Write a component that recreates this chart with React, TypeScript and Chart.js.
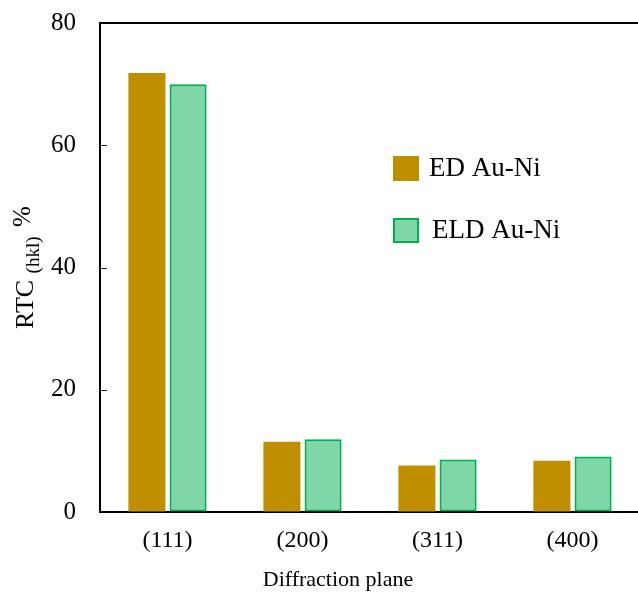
import { useEffect, useRef } from "react";
import { Chart, registerables } from "chart.js";

Chart.register(...registerables);

const categories = ["(111)", "(200)", "(311)", "(400)"];
const edValues = [71.8, 11.5, 7.6, 8.4];
const eldValues = [70.0, 11.9, 8.6, 9.1];
const seriesNames = ["ED Au-Ni", "ELD Au-Ni"];
const yMin = 0;
const yMax = 80;
const yStep = 20;
const xTitle = "Diffraction plane";
const yTitleMain = "RTC";
const yTitleSub = "(hkl)";
const yTitleUnit = "%";

const SERIF = '"Liberation Serif", "Times New Roman", serif';
const ED_COLOR = "#BF8F00";
const ELD_FILL = "rgba(0,176,80,0.5)";
const ELD_BORDER = "#00B050";

const decorPlugin = {
  id: "decor",
  afterDraw(chart: any) {
    const ctx = chart.ctx;
    const area = chart.chartArea;
    const yScale = chart.scales.y;
    ctx.save();
    // top border
    ctx.strokeStyle = "#000";
    ctx.lineWidth = 2;
    ctx.beginPath();
    ctx.moveTo(area.left - 1, area.top);
    ctx.lineTo(area.right + 2, area.top);
    ctx.stroke();
    // inward ticks
    ctx.lineWidth = 1;
    ctx.strokeStyle = "#222";
    for (let v = yMin + yStep; v < yMax; v += yStep) {
      const y = Math.round(yScale.getPixelForValue(v)) + 0.5;
      ctx.beginPath();
      ctx.moveTo(area.left, y);
      ctx.lineTo(area.left + 7, y);
      ctx.stroke();
    }
    // y title
    ctx.fillStyle = "#000";
    ctx.textBaseline = "alphabetic";
    ctx.textAlign = "left";
    const mainFont = `26px ${SERIF}`;
    const subFont = `19px ${SERIF}`;
    const unitFont = `25px ${SERIF}`;
    ctx.font = mainFont;
    const wMain = ctx.measureText(yTitleMain + " ").width;
    ctx.font = subFont;
    const wSub = ctx.measureText(yTitleSub + "  ").width;
    ctx.font = unitFont;
    const wUnit = ctx.measureText(yTitleUnit).width;
    const total = wMain + wSub + wUnit;
    const cy = (area.top + area.bottom) / 2;
    ctx.translate(33, cy);
    ctx.rotate(-Math.PI / 2);
    let x = -total / 2;
    ctx.font = mainFont;
    ctx.fillText(yTitleMain, x, 0);
    x += wMain;
    ctx.font = subFont;
    ctx.fillText(yTitleSub, x, 6);
    x += wSub;
    ctx.font = unitFont;
    ctx.fillText(yTitleUnit, x, -3);
    ctx.setTransform(1, 0, 0, 1, 0, 0);
    // x title
    ctx.font = `22px ${SERIF}`;
    ctx.textAlign = "center";
    ctx.textBaseline = "middle";
    ctx.fillText(xTitle, 338, 580);
    // legend
    const lx = area.left + 293;
    const rows = [
      { y: area.top + 133, fill: ED_COLOR, stroke: null as any, tx: lx + 36 },
      { y: area.top + 195, fill: ELD_FILL, stroke: ELD_BORDER, tx: lx + 39 },
    ];
    ctx.font = `27px ${SERIF}`;
    ctx.textAlign = "left";
    ctx.textBaseline = "middle";
    rows.forEach((r, i) => {
      ctx.fillStyle = "#fff";
      ctx.fillRect(lx, r.y, 26, 25);
      ctx.fillStyle = r.fill;
      ctx.fillRect(lx, r.y, 26, 25);
      if (r.stroke) {
        ctx.strokeStyle = r.stroke;
        ctx.lineWidth = 2;
        ctx.strokeRect(lx + 1, r.y + 1, 24, 23);
      }
      ctx.fillStyle = "#000";
      ctx.fillText(seriesNames[i], r.tx, r.y + 13);
    });
    ctx.restore();
  },
};

export default function App() {
  const ref = useRef<HTMLCanvasElement | null>(null);
  useEffect(() => {
    if (!ref.current) return;
    const chart = new Chart(ref.current, {
      type: "bar",
      data: {
        labels: categories,
        datasets: [
          {
            label: seriesNames[0],
            data: edValues,
            backgroundColor: ED_COLOR,
            borderWidth: 0,
            categoryPercentage: 0.61,
            barPercentage: 0.9,
          },
          {
            label: seriesNames[1],
            data: eldValues,
            backgroundColor: ELD_FILL,
            borderColor: ELD_BORDER,
            borderWidth: 2,
            borderSkipped: false,
            categoryPercentage: 0.61,
            barPercentage: 0.9,
          },
        ],
      },
      options: {
        responsive: false,
        animation: false,
        devicePixelRatio: 1,
        layout: { padding: { top: 23, right: 2, left: 0, bottom: 0 } },
        plugins: {
          legend: { display: false },
          tooltip: { enabled: false },
          title: { display: false },
        },
        scales: {
          x: {
            grid: { display: false, drawTicks: false },
            border: { display: true, color: "#000", width: 2 },
            ticks: {
              color: "#000",
              font: { family: SERIF, size: 24 },
              padding: 14,
              maxRotation: 0,
            },
            afterFit: (s: any) => {
              s.height = 80;
              s.paddingLeft = 0;
              s.paddingRight = 0;
            },
          },
          y: {
            min: yMin,
            max: yMax,
            grid: { display: true, drawOnChartArea: false, drawTicks: false },
            border: { display: true, color: "#000", width: 2 },
            ticks: {
              stepSize: yStep,
              color: "#000",
              font: { family: SERIF, size: 25 },
              padding: 24,
            },
            afterFit: (s: any) => {
              s.width = 100;
              s.paddingTop = 0;
              s.paddingBottom = 0;
            },
          },
        },
      },
      plugins: [decorPlugin],
    });
    return () => chart.destroy();
  }, []);
  return (
    <div
      style={{
        position: "fixed",
        left: 0,
        top: 0,
        width: 638,
        height: 592,
        overflow: "hidden",
        background: "#fff",
      }}
    >
      <canvas ref={ref} width={642} height={592} style={{ width: 642, height: 592, display: "block" }} />
    </div>
  );
}
